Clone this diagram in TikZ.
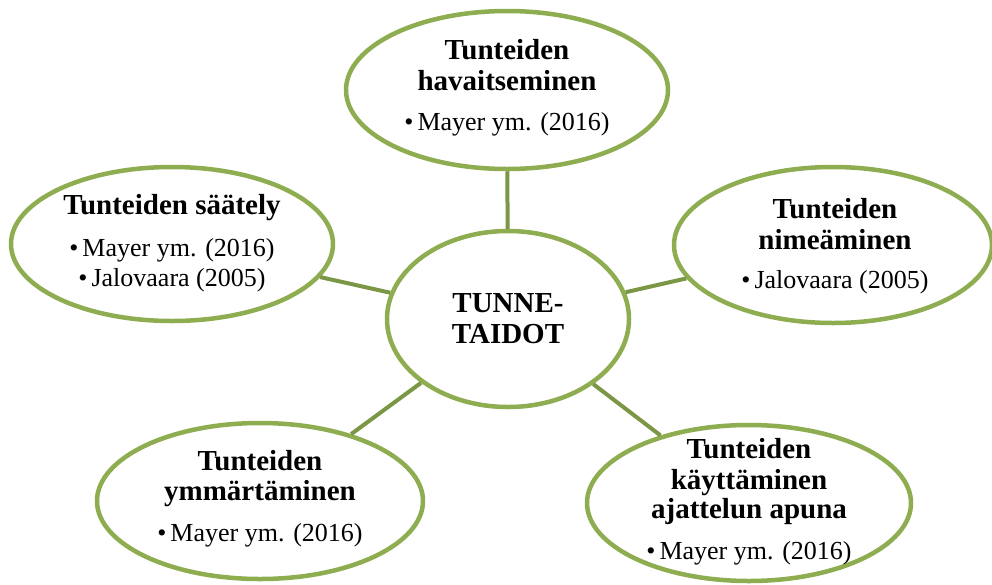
\documentclass[tikz,border=0pt]{standalone}
\usepackage{fontspec}
\setmainfont{Liberation Serif}
\usetikzlibrary{shapes.geometric}

\definecolor{ringgreen}{RGB}{142,172,80}
\definecolor{linkgreen}{RGB}{123,151,70}

\tikzset{
  bubble/.style={ellipse, draw=ringgreen, line width=4.5pt, fill=white,
                 inner sep=0pt, minimum width=#1},
  bubble/.default={320pt},
  label text/.style={align=center, inner sep=0pt,
                     font=\fontsize{26}{30}\selectfont},
  link/.style={draw=linkgreen, line width=4pt},
}
\newcommand{\ttl}[1]{{\fontsize{29}{30}\selectfont\bfseries #1}}
\newcommand{\refitem}[1]{\textbullet\hspace{4pt}#1}

\begin{document}
\begin{tikzpicture}[x=1pt, y=-1pt]
  \useasboundingbox (0,0) rectangle (992,584);

  % central bubble and the five surrounding ones
  \node[bubble={242pt}, minimum height=176pt] (hub)  at (508,319) {};
  \node[bubble={322pt}, minimum height=158pt] (perc) at (507,90)  {};
  \node[bubble={322pt}, minimum height=154pt] (regu) at (172,244) {};
  \node[bubble={318pt}, minimum height=156pt] (name) at (833,245) {};
  \node[bubble={326pt}, minimum height=156pt] (unde) at (260,501) {};
  \node[bubble={324pt}, minimum height=156pt] (use)  at (749,503) {};

  % spokes from each bubble to the centre
  \draw[link] (perc) -- (hub);
  \draw[link] (regu) -- (hub);
  \draw[link] (name) -- (hub);
  \draw[link] (unde) -- (hub);
  \draw[link] (use)  -- (hub);

  % texts
  \node[label text] (hub-t) at (hub.center)
    {\ttl{TUNNE-}\\[1pt]\ttl{TAIDOT}};
  \node[label text] (perc-t) at ([yshift=2pt]perc.center)
    {\ttl{Tunteiden}\\[1pt]\ttl{havaitseminen}\\[10pt]\refitem{Mayer ym. (2016)}};
  \node[label text] (regu-t) at ([yshift=1pt]regu.center)
    {\ttl{Tunteiden säätely}\\[12pt]\refitem{Mayer ym. (2016)}\\\refitem{Jalovaara (2005)}};
  \node[label text] (name-t) at ([yshift=-1pt, xshift=2pt]name.center)
    {\ttl{Tunteiden}\\[1pt]\ttl{nimeäminen}\\[9pt]\refitem{Jalovaara (2005)}};
  \node[label text] (unde-t) at ([yshift=2pt]unde.center)
    {\ttl{Tunteiden}\\[0pt]\ttl{ymmärtäminen}\\[11pt]\refitem{Mayer ym. (2016)}};
  \node[label text] (use-t) at ([yshift=1pt]use.center)
    {\ttl{Tunteiden}\\[1pt]\ttl{käyttäminen}\\[-1pt]\ttl{ajattelun apuna}\\[11pt]\refitem{Mayer ym. (2016)}};
\end{tikzpicture}
\end{document}
